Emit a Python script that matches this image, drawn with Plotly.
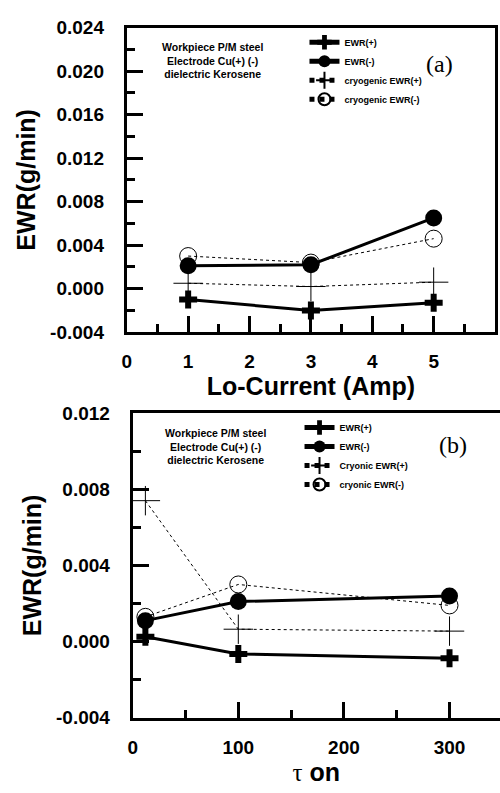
import plotly.graph_objects as go

# ---- data ----
current = [1, 3, 5]
a_ewr_pos = [-0.0010, -0.0020, -0.0013]
a_ewr_neg = [0.0021, 0.0022, 0.0065]
a_cryo_pos = [0.0005, 0.0002, 0.0006]
a_cryo_neg = [0.0030, 0.0024, 0.0046]

ton = [12, 100, 300]
b_ewr_pos = [0.00025, -0.00065, -0.00088]
b_ewr_neg = [0.0011, 0.0021, 0.0024]
b_cryo_pos = [0.0074, 0.00065, 0.00055]
b_cryo_neg = [0.0013, 0.0030, 0.0019]

names_a = ["EWR(+)", "EWR(-)", "cryogenic EWR(+)", "cryogenic EWR(-)"]
names_b = ["EWR(+)", "EWR(-)", "Cryonic EWR(+)", "cryonic EWR(-)"]

a_ticks_x = [0, 1, 2, 3, 4, 5, 6]
a_ticks_y = [-0.004, 0.000, 0.004, 0.008, 0.012, 0.016, 0.020, 0.024]
a_ticktext_y = ["-0.004", "0.000", "0.004", "0.008", "0.012", "0.016", "0.020", "0.024"]
b_ticks_x = [0, 100, 200, 300]
b_ticks_y = [-0.004, 0.000, 0.004, 0.008, 0.012]
b_ticktext_y = ["-0.004", "0.000", "0.004", "0.008", "0.012"]

note = "Workpiece P/M steel<br>Electrode Cu(+) (-)<br>dielectric Kerosene"

SANS = "Liberation Sans, Arial, sans-serif"
NARROW = "Liberation Sans Narrow, Arial Narrow, Liberation Sans, sans-serif"
SERIF = "Liberation Serif, Times New Roman, serif"

fig = go.Figure()


def add_series(x, ys, names, xa, ya, legend):
    styles = [
        dict(line=dict(color="black", width=3),
             marker=dict(symbol="cross", size=15, color="black")),
        dict(line=dict(color="black", width=3),
             marker=dict(symbol="circle", size=17, color="black")),
        dict(line=dict(color="black", width=1, dash="dot"),
             marker=dict(symbol="cross-thin", size=21,
                         line=dict(color="black", width=1))),
        dict(line=dict(color="black", width=1, dash="dot"),
             marker=dict(symbol="circle-open", size=17, color="black",
                         line=dict(color="black", width=1))),
    ]
    for y, n, s in zip(ys, names, styles):
        fig.add_trace(go.Scatter(x=x, y=y, name=n, mode="lines+markers",
                                 xaxis=xa, yaxis=ya, legend=legend, **s))


add_series(current, [a_ewr_pos, a_ewr_neg, a_cryo_pos, a_cryo_neg],
           names_a, "x", "y", "legend")
add_series(ton, [b_ewr_pos, b_ewr_neg, b_cryo_pos, b_cryo_neg],
           names_b, "x2", "y2", "legend2")

tickfont = dict(family=SANS, size=19, color="black", weight="bold")
titlefont = dict(family=SANS, size=25, color="black", weight="bold")

common = dict(showgrid=False, zeroline=False, showline=True, linecolor="black",
              linewidth=3, ticks="inside", ticklen=16, tickwidth=3,
              tickcolor="black", tickfont=tickfont)

fig.update_layout(
    autosize=True,
    margin=dict(l=0, r=0, t=0, b=0),
    paper_bgcolor="white", plot_bgcolor="white",
    showlegend=True,
    xaxis=dict(domain=[0.246, 0.99], range=[0, 6], anchor="y",
               tickvals=a_ticks_x, mirror=True,
               minor=dict(dtick=0.5, ticklen=8, tickwidth=3, ticks="inside",
                          tickcolor="black"),
               ticklabelstandoff=10,
               title=dict(text="Lo-Current (Amp)", font=titlefont, standoff=7),
               **common),
    yaxis=dict(domain=[0.5826, 0.9773], range=[-0.004, 0.024], anchor="x",
               tickvals=a_ticks_y, ticktext=a_ticktext_y, mirror=True,
               minor=dict(dtick=0.002, tick0=0, ticklen=8, tickwidth=3,
                          ticks="inside", tickcolor="black"),
               ticklabelstandoff=16,
               title=dict(text="EWR(g/min)", font=titlefont, standoff=8),
               **common),
    xaxis2=dict(domain=[0.258, 1.0], range=[0, 347.8], anchor="y2",
                tickvals=b_ticks_x, mirror=True,
                minor=dict(dtick=50, ticklen=8, tickwidth=3, ticks="inside",
                           tickcolor="black"),
                ticklabelstandoff=10,
                title=dict(text="<span style='font-family:Liberation Serif;font-weight:normal'>τ</span> on",
                           font=titlefont, standoff=3),
                **common),
    yaxis2=dict(domain=[0.0832, 0.4779], range=[-0.004, 0.012], anchor="x2",
                tickvals=b_ticks_y, ticktext=b_ticktext_y, mirror=False,
                minor=dict(dtick=0.002, tick0=0, ticklen=8, tickwidth=3,
                           ticks="inside", tickcolor="black"),
                ticklabelstandoff=16,
                title=dict(text="EWR(g/min)", font=titlefont, standoff=8),
                **common),
    legend=dict(x=0.605, y=0.977, xanchor="left", yanchor="top",
                bgcolor="rgba(0,0,0,0)", borderwidth=0,
                font=dict(family=SANS, size=9, color="black", weight="bold"),
                itemsizing="constant", tracegroupgap=0),
    legend2=dict(x=0.595, y=0.478, xanchor="left", yanchor="top",
                 bgcolor="rgba(0,0,0,0)", borderwidth=0,
                 font=dict(family=SANS, size=9, color="black", weight="bold"),
                 itemsizing="constant", tracegroupgap=0),
    annotations=[
        dict(text=note, x=210, y=52, xref="paper", yref="paper",
             xanchor="center", yanchor="middle",
             showarrow=False, align="center",
             font=dict(family=NARROW, size=10.5, color="black", weight="bold")),
        dict(text=note, x=213, y=448, xref="paper", yref="paper",
             xanchor="center", yanchor="middle",
             showarrow=False, align="center",
             font=dict(family=NARROW, size=10.5, color="black", weight="bold")),
        dict(text="(a)", x=439, y=55, xref="paper", yref="paper",
             xanchor="center", yanchor="middle",
             showarrow=False, font=dict(family=SERIF, size=24, color="black")),
        dict(text="(b)", x=453, y=447, xref="paper", yref="paper",
             xanchor="center", yanchor="middle",
             showarrow=False, font=dict(family=SERIF, size=24, color="black")),
    ],
)

# convert annotation pixel positions (500x793 reference) to paper coords
W, H = 500, 793
for ann in fig.layout.annotations:
    ann.x = ann.x / W
    ann.y = 1 - ann.y / H

fig.write_html(
    "out.html",
    default_width="100vw",
    default_height="100vh",
    config={"displayModeBar": False, "responsive": True},
    post_script="document.documentElement.style.overflow='hidden';"
                "document.body.style.margin='0';document.body.style.padding='0';"
                "document.body.style.overflow='hidden';",
)
